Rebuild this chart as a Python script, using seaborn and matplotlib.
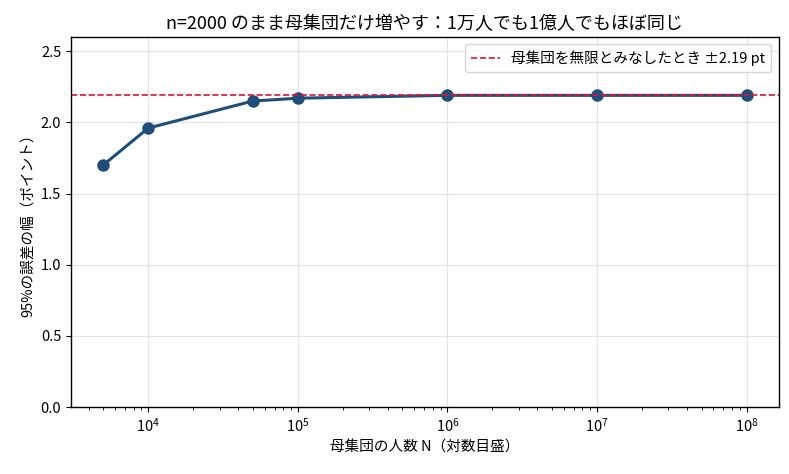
import numpy as np
import pandas as pd
import seaborn as sns
import matplotlib
matplotlib.use("Agg")
import matplotlib.pyplot as plt

# 母集団サイズと誤差の幅（読み取り値）
population = [5000, 10000, 50000, 100000, 1000000, 10000000, 100000000]
margin = [1.70, 1.96, 2.15, 2.17, 2.19, 2.19, 2.19]
infinite_margin = 2.19

sns.set_style("white")
plt.rcParams['font.family'] = ['Noto Sans CJK JP', 'DejaVu Sans']
plt.rcParams['axes.unicode_minus'] = False
plt.rcParams['text.color'] = 'black'
plt.rcParams['axes.labelcolor'] = 'black'
plt.rcParams['xtick.color'] = 'black'
plt.rcParams['ytick.color'] = 'black'

df = pd.DataFrame({"N": population, "moe": margin})

fig, ax = plt.subplots(figsize=(7.89, 4.74), dpi=100)
sns.lineplot(data=df, x="N", y="moe", ax=ax, color="#1f4e79",
             linewidth=2.2, marker="o", markersize=9, markeredgewidth=0)
ax.axhline(infinite_margin, color="#dc143c", linestyle="--", linewidth=1.2,
           label=f"母集団を無限とみなしたとき ±{infinite_margin:.2f} pt")
ax.set_xscale("log")
ax.set_ylim(0, 2.6)
ax.grid(True, color="#dddddd", alpha=0.8, linewidth=0.8)
for s in ax.spines.values():
    s.set_color("black")
    s.set_linewidth(1)
ax.tick_params(axis="both", which="both", direction="out", length=3.5, bottom=True, left=True,
               labelsize=10.5)
ax.tick_params(which="minor", length=2)
ax.set_title("n=2000 のまま母集団だけ増やす：1万人でも1億人でもほぼ同じ", fontsize=13)
ax.set_xlabel("母集団の人数 N（対数目盛）", fontsize=10.5)
ax.set_ylabel("95%の誤差の幅（ポイント）", fontsize=10.5)
ax.legend(loc="upper right", fontsize=10.5)
fig.subplots_adjust(left=0.09, right=0.987, top=0.922, bottom=0.141)
fig.savefig("out.png", dpi=100)
